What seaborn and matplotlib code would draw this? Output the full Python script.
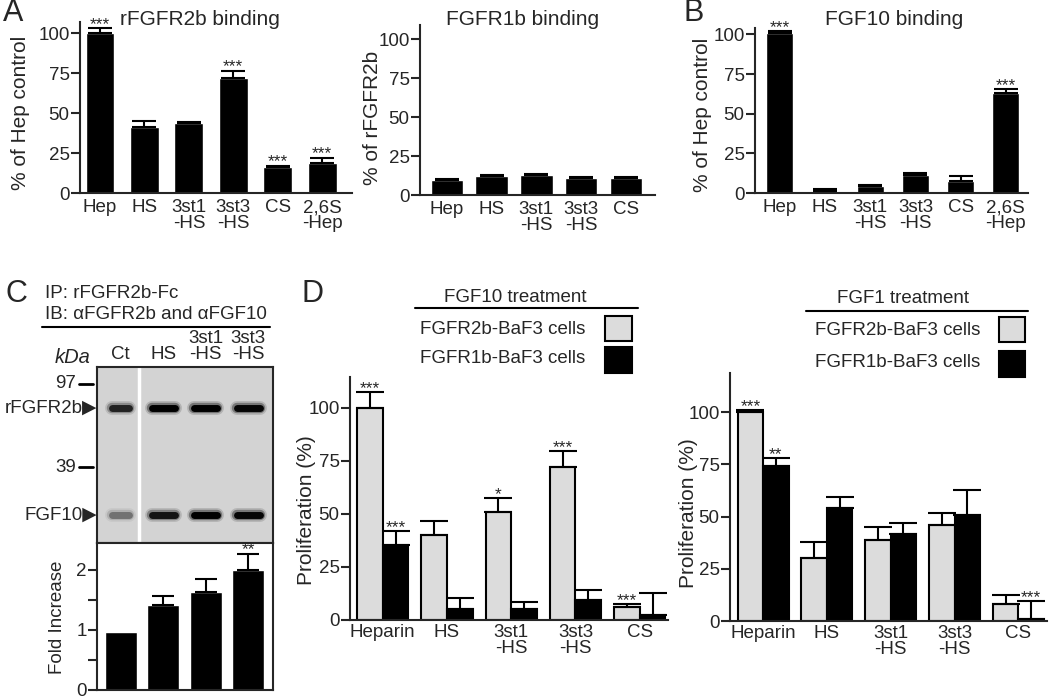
import numpy as np
import pandas as pd
import matplotlib.pyplot as plt
from matplotlib.lines import Line2D
from matplotlib.patches import Rectangle
import seaborn as sns

sns.set_style("ticks")
plt.rcParams['font.family'] = ['Liberation Sans', 'DejaVu Sans']
plt.rcParams['font.size'] = 13.5
plt.rcParams['axes.linewidth'] = 1.5

# ---- data ----
# A: rFGFR2b binding (% of Hep control)
a_agents = ["Hep", "HS", "3st1\n-HS", "3st3\n-HS", "CS", "2,6S\n-Hep"]
a_r2b = [100, 41, 43.5, 72, 16, 19]
a_r2b_err = [3, 4, 1, 4.5, 1, 3]
a_r2b_stars = ["***", "", "", "***", "***", "***"]

# A: FGFR1b binding (% of rFGFR2b)
a_r1b_agents = ["Hep", "HS", "3st1\n-HS", "3st3\n-HS", "CS"]
a_r1b = [9.5, 12.5, 13, 11, 11]
a_r1b_err = [0.5, 0.6, 0.6, 0.5, 0.6]

# B: FGF10 binding
b_fgf10 = [101, 1.5, 4.5, 11.5, 7.5, 63]
b_fgf10_err = [1, 1, 0.5, 1, 3, 2.5]
b_stars = ["***", "", "", "", "", "***"]

# C: pull-down, gel band strength (0-1) and fold increase
c_lanes = ["Ct", "HS", "3st1\n-HS", "3st3\n-HS"]
c_band_r2b = [0.75, 1.0, 1.0, 0.95]
c_band_fgf10 = [0.35, 0.85, 1.0, 0.95]
c_fold = [0.97, 1.41, 1.63, 2.0]
c_fold_err = [0.0, 0.15, 0.22, 0.27]
c_stars = ["", "", "", "**"]

# D: proliferation (%)
d_agents = ["Heparin", "HS", "3st1\n-HS", "3st3\n-HS", "CS"]
d_cells = ["FGFR2b-BaF3 cells", "FGFR1b-BaF3 cells"]
d_fgf10_r2b = [100, 40, 51, 72, 6]
d_fgf10_r2b_err = [7.5, 6.5, 6.5, 7.5, 1.5]
d_fgf10_r1b = [35.5, 5, 5, 9.5, 2.5]
d_fgf10_r1b_err = [6.5, 5.5, 3.5, 4.5, 10]
d_fgf10_stars = [["***", "", "*", "***", "***"], ["***", "", "", "", ""]]
d_fgf1_r2b = [100, 30, 39, 46, 8]
d_fgf1_r2b_err = [1, 8, 6, 5.5, 4.5]
d_fgf1_r1b = [74, 54, 41.5, 50.5, 1]
d_fgf1_r1b_err = [4, 5.5, 5.5, 12, 8.5]
d_fgf1_stars = [["***", "", "", "", ""], ["**", "", "", "", "***"]]

GREY = "#dcdcdc"
W, H = 1050, 700
TICK = 13.5

fig = plt.figure(figsize=(10.5, 7), dpi=100)


def fx(x):
    return x / W


def fy(y):
    return 1 - y / H


def px_axes(left, top, right, bottom):
    return fig.add_axes([fx(left), fy(bottom), (right - left) / W, (bottom - top) / H])


def ftext(x, y, s, **kw):
    fig.text(fx(x), fy(y), s, **kw)


def fline(x1, x2, y, lw=1.5):
    fig.add_artist(Line2D([fx(x1), fx(x2)], [fy(y), fy(y)], transform=fig.transFigure,
                          color="black", lw=lw))


def add_err(ax, container, errs, stars, cap):
    for bar, e, s in zip(container, errs, stars):
        xc = bar.get_x() + bar.get_width() / 2
        top = bar.get_height()
        if e > 0:
            ax.errorbar(xc, top, yerr=[[0], [e]], fmt="none", ecolor="black",
                        elinewidth=1.5, capsize=cap, capthick=1.5, clip_on=False)
        if s:
            ax.annotate(s, (xc, top + e), xytext=(0, -0.5), textcoords="offset points",
                        ha="center", va="baseline", fontsize=12.5)


def style_axis(ax, xlim, ylim, yticks):
    ax.set_xlim(*xlim)
    ax.set_ylim(*ylim)
    ax.set_yticks(yticks)
    ax.set_xlabel("")
    ax.set_ylabel("")
    ax.tick_params(axis="y", length=6.5, width=1.5, pad=1, labelsize=TICK)
    ax.tick_params(axis="x", length=0, pad=4.5, labelsize=TICK)
    for lab in ax.get_xticklabels():
        lab.set_linespacing(0.9)
    sns.despine(ax=ax)


def simple_bars(ax, labels, vals, errs, stars, width, xlim, ylim, cap):
    sns.barplot(x=labels, y=vals, color="black", width=width, errorbar=None,
                saturation=1, ax=ax)
    add_err(ax, ax.containers[0], errs, stars, cap)
    style_axis(ax, xlim, ylim, [0, 25, 50, 75, 100])


# ---- A ----
ax_a1 = px_axes(80, 22, 352, 193)
simple_bars(ax_a1, a_agents, a_r2b, a_r2b_err, a_r2b_stars, 0.65, (-0.45, 5.67), (0, 107), 8.5)
ax_a2 = px_axes(420, 25, 655, 195)
simple_bars(ax_a2, a_r1b_agents, a_r1b, a_r1b_err, [""] * 5, 0.73, (-0.6, 4.65), (0, 109), 8.5)

# ---- B ----
ax_b = px_axes(755, 28, 1028, 193)
simple_bars(ax_b, a_agents, b_fgf10, b_fgf10_err, b_stars, 0.6, (-0.55, 5.49), (0, 104), 8.5)

ftext(200, 25, "rFGFR2b binding", ha="center", va="baseline", fontsize=15)
ftext(523, 25, "FGFR1b binding", ha="center", va="baseline", fontsize=15)
ftext(894, 25, "FGF10 binding", ha="center", va="baseline", fontsize=15)
ftext(21, 113, "% of Hep control", rotation=90, ha="center", va="center", fontsize=15)
ftext(372, 118, "% of rFGFR2b", rotation=90, ha="center", va="center", fontsize=15)
ftext(703, 115, "% of Hep control", rotation=90, ha="center", va="center", fontsize=15)

# ---- C ----
c_xlim = (-0.56, 3.58)
gel = px_axes(97, 367, 273, 543)
gel.set_facecolor("#d3d3d3")
gel.set_xlim(*c_xlim)
gel.set_ylim(0, 1)
for i, (r2b, f10) in enumerate(zip(c_band_r2b, c_band_fgf10)):
    half = 0.2 if i == 0 else 0.27
    for lw, al in [(10, 0.15), (7.5, 0.35), (5, 1.0)]:
        gel.hlines(0.767, i - half, i + half, colors="black", linewidth=lw,
                   alpha=al * r2b, capstyle="round")
        gel.hlines(0.159, i - half, i + half, colors="black", linewidth=lw,
                   alpha=al * f10, capstyle="round")
gel.axvline(0.43, color="white", lw=2.5)
gel.set_xticks(range(len(c_lanes)))
gel.set_xticklabels(c_lanes)
gel.set_yticks([])
gel.tick_params(axis="x", top=True, labeltop=True, bottom=False, labelbottom=False,
                length=0, pad=3, labelsize=TICK)
for lab in gel.get_xticklabels():
    lab.set_linespacing(0.9)
for s in gel.spines.values():
    s.set_linewidth(1.5)

ax_c = px_axes(97, 543, 273, 690)
sns.barplot(x=c_lanes, y=c_fold, color="black", width=0.75, errorbar=None,
            saturation=1, ax=ax_c)
add_err(ax_c, ax_c.containers[0], c_fold_err, c_stars, 8)
ax_c.set_xlim(*c_xlim)
ax_c.set_ylim(0, 2.45)
ax_c.set_yticks([0, 1, 2])
ax_c.set_yticks([0.5, 1.5], minor=True)
ax_c.set_xticks([])
ax_c.tick_params(axis="y", which="both", length=6.5, width=1.5, pad=1, labelsize=TICK)
for s in ax_c.spines.values():
    s.set_linewidth(1.5)

ftext(45, 298, "IP: rFGFR2b-Fc", ha="left", va="baseline", fontsize=13.5)
ftext(45, 319, "IB: \u03b1FGFR2b and \u03b1FGF10", ha="left", va="baseline", fontsize=13.5)
fline(42, 270, 327)
ftext(55, 363, "kDa", ha="left", va="baseline", fontsize=14.5, style="italic")
for lab, y in [("97", 384), ("39", 467)]:
    ftext(76, y, lab, ha="right", va="center", fontsize=13.5)
    fline(79, 93, y, lw=2)
ftext(97, 408, "rFGFR2b\u25b6", ha="right", va="center", fontsize=13.5)
ftext(97, 515, "FGF10\u25b6", ha="right", va="center", fontsize=13.5)
ftext(58, 617, "Fold Increase", rotation=90, ha="center", va="center", fontsize=13.5)


# ---- D ----
def prolif(ax, r2b, r2b_err, r1b, r1b_err, stars, xlim, ylim):
    df = pd.DataFrame({
        "agent": d_agents * 2,
        "cells": [d_cells[0]] * 5 + [d_cells[1]] * 5,
        "value": r2b + r1b,
    })
    sns.barplot(data=df, x="agent", y="value", hue="cells", palette=[GREY, "black"],
                edgecolor="black", linewidth=1.5, width=0.8, errorbar=None,
                saturation=1, legend=False, ax=ax)
    add_err(ax, ax.containers[0], r2b_err, stars[0], 10)
    add_err(ax, ax.containers[1], r1b_err, stars[1], 10)
    style_axis(ax, xlim, ylim, [0, 25, 50, 75, 100])
    ax.tick_params(axis="x", pad=3)


ax_d1 = px_axes(350, 377, 668, 620)
prolif(ax_d1, d_fgf10_r2b, d_fgf10_r2b_err, d_fgf10_r1b, d_fgf10_r1b_err,
       d_fgf10_stars, (-0.51, 4.44), (0, 114.6))
ax_d2 = px_axes(730, 373, 1047, 621)
prolif(ax_d2, d_fgf1_r2b, d_fgf1_r2b_err, d_fgf1_r1b, d_fgf1_r1b_err,
       d_fgf1_stars, (-0.52, 4.45), (0, 118.7))

ftext(307, 510, "Proliferation (%)", rotation=90, ha="center", va="center", fontsize=15)
ftext(688, 513, "Proliferation (%)", rotation=90, ha="center", va="center", fontsize=15)

# legends drawn by hand: title, rule, label then swatch
legends = [
    ("FGF10 treatment", 515, 302, 415, 638, 308, 420, [334, 363], 605, 632, [(316, 341), (347, 373)]),
    ("FGF1 treatment", 903, 303, 806, 1028, 311, 815, [335, 367], 999, 1025, [(317, 342), (351, 377)]),
]
for title, tx, ty, lx1, lx2, ly, labx, laby, bx1, bx2, boxes in legends:
    ftext(tx, ty, title, ha="center", va="baseline", fontsize=13.5)
    fline(lx1, lx2, ly)
    for name, yb, (t, b), col in zip(d_cells, laby, boxes, [GREY, "black"]):
        ftext(labx, yb, name, ha="left", va="baseline", fontsize=13.5)
        fig.add_artist(Rectangle((fx(bx1), fy(b)), (bx2 - bx1) / W, (b - t) / H,
                                 transform=fig.transFigure, facecolor=col,
                                 edgecolor="black", lw=1.5))

# panel letters
for letter, x, y in [("A", 3, 21), ("B", 684, 21), ("C", 5, 302), ("D", 302, 302)]:
    ftext(x, y, letter, ha="left", va="baseline", fontsize=22)

fig.savefig("out.png", dpi=100)
